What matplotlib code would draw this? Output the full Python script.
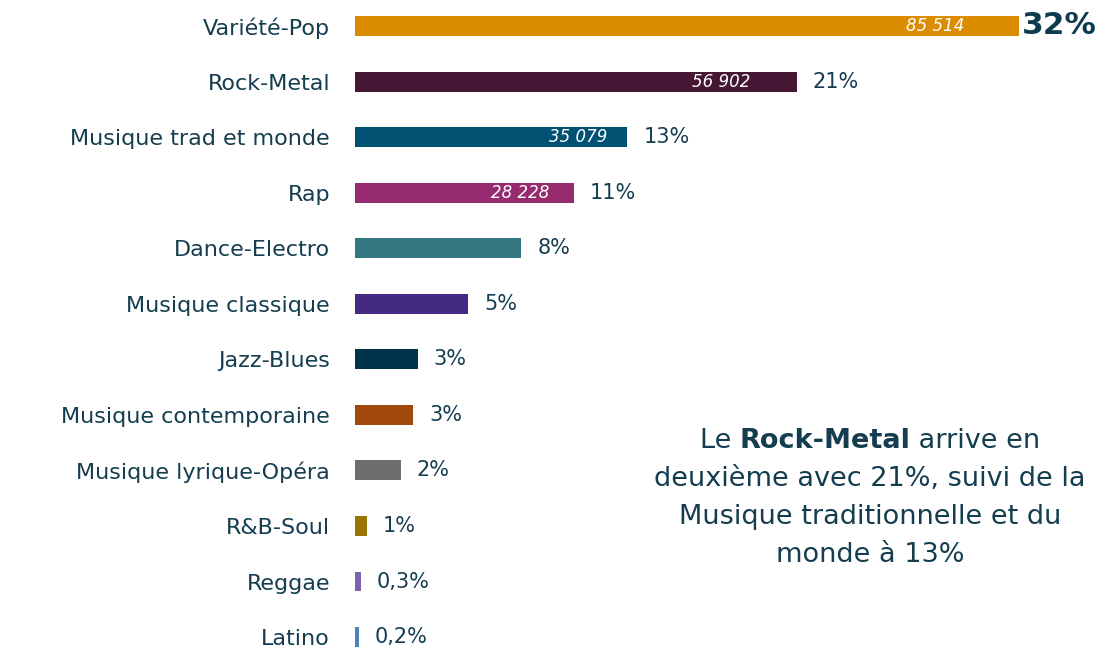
import matplotlib.pyplot as plt
import numpy as np

genres = ['Variété-Pop', 'Rock-Metal', 'Musique trad et monde', 'Rap', 'Dance-Electro',
          'Musique classique', 'Jazz-Blues', 'Musique contemporaine', 'Musique lyrique-Opéra',
          'R&B-Soul', 'Reggae', 'Latino']
# counts (the first four are printed on the chart, the rest)
counts = [85514, 56902, 35079, 28228, 21400, 14600, 8100, 7500, 5900, 1550, 780, 500]
value_labels = ['85 514', '56 902', '35 079', '28 228', '', '', '', '', '', '', '', '']
pct_labels = ['32%', '21%', '13%', '11%', '8%', '5%', '3%', '3%', '2%', '1%', '0,3%', '0,2%']
colors = ['#DB8C00', '#461735', '#005172', '#962C6F', '#337780', '#452A83', '#00344B',
          '#A1480F', '#6E6E6E', '#9A7400', '#7B63B0', '#4F81BD']
value_insets = [55, 46, 20, 25]   # px from bar end for the white numbers

TXT = '#143D50'
plt.rcParams['font.family'] = ['DejaVu Sans']

fig = plt.figure(figsize=(11.06, 6.49), dpi=100)
ax = fig.add_axes([355 / 1106, 0, 751 / 1106, 1])

y = np.arange(len(genres))
ax.barh(y, counts, height=0.36, color=colors)
ax.set_xlim(0, 751 * 85514 / 664)
ax.set_ylim((649 - 26) / 55.55, -26 / 55.55)

ax.set_yticks(y)
ax.set_yticklabels(genres, fontsize=16, color=TXT)
ax.tick_params(axis='y', length=0, pad=18)
ax.set_xticks([])
for s in ax.spines.values():
    s.set_visible(False)

for i, (c, p) in enumerate(zip(counts, pct_labels)):
    if i == 0:
        ax.annotate(p, (c, i), xytext=(2, 0), textcoords='offset points', va='center',
                    ha='left', fontsize=22.5, fontweight='bold', color='#0D3B4F')
    else:
        ax.annotate(p, (c, i), xytext=(11.5, 0), textcoords='offset points', va='center',
                    ha='left', fontsize=15, color=TXT)
    if value_labels[i]:
        ax.annotate(value_labels[i], (c, i), xytext=(-value_insets[i] * 0.72, 0),
                    textcoords='offset points', va='center', ha='right',
                    fontsize=12, style='italic', color='white')

# comment text on the right
cx = 870 / 1106
fs = 19.5
lines = ['deuxième avec 21%, suivi de la', 'Musique traditionnelle et du', 'monde à 13%']
for k, ln in enumerate(lines):
    fig.text(cx, 1 - (479 + 38 * k) / 649, ln, ha='center', va='center', fontsize=fs, color=TXT)

# first line with bold part
parts = [('Le ', 'normal'), ('Rock-Metal', 'bold'), (' arrive en', 'normal')]
renderer = fig.canvas.get_renderer()
objs = []
widths = []
for t, w in parts:
    o = fig.text(0, 1 - 441 / 649, t, ha='left', va='center', fontsize=fs,
                 fontweight=w, color=TXT)
    objs.append(o)
    widths.append(o.get_window_extent(renderer).width)
total = sum(widths)
x0 = cx * 1106 - total / 2
for o, w in zip(objs, widths):
    o.set_x(x0 / 1106)
    x0 += w

fig.savefig('out.png', dpi=100)
